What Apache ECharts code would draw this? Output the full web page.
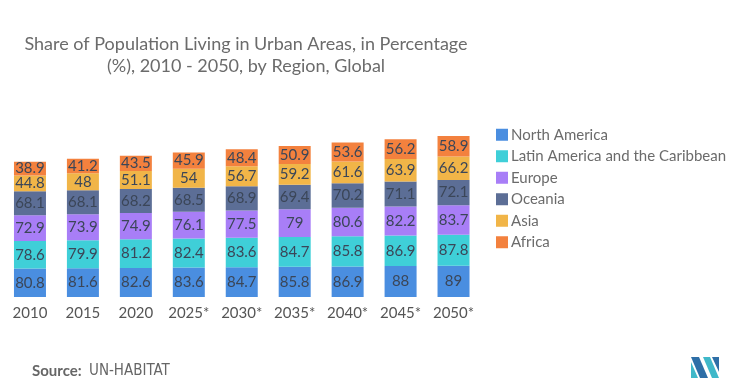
<!DOCTYPE html>
<html><head><meta charset="utf-8">
<script src="https://cdn.jsdelivr.net/npm/echarts@6/dist/echarts.min.js"></script>
<style>html,body{margin:0;padding:0;background:#fff}#c{width:738px;height:390px}</style>
</head><body><div id="c"></div>
<script>
const categories = ['2010','2015','2020','2025*','2030*','2035*','2040*','2045*','2050*'];
const northAmerica = [80.8,81.6,82.6,83.6,84.7,85.8,86.9,88,89];
const latinAmerica = [78.6,79.9,81.2,82.4,83.6,84.7,85.8,86.9,87.8];
const europe = [72.9,73.9,74.9,76.1,77.5,79,80.6,82.2,83.7];
const oceania = [68.1,68.1,68.2,68.5,68.9,69.4,70.2,71.1,72.1];
const asia = [44.8,48,51.1,54,56.7,59.2,61.6,63.9,66.2];
const africa = [38.9,41.2,43.5,45.9,48.4,50.9,53.6,56.2,58.9];
const seriesNames = ['North America','Latin America and the Caribbean','Europe','Oceania','Asia','Africa'];
const seriesData = [northAmerica, latinAmerica, europe, oceania, asia, africa];
const colors = ['#4a8ee0','#3fcfd8','#a87ef7','#5c6e96','#f1b548','#f3813e'];
const FONT = 'Lato';

const chart = echarts.init(document.getElementById('c'));
chart.setOption({
  animation: false,
  color: colors,
  textStyle: {fontFamily: FONT},
  title: {
    text: 'Share of Population Living in Urban Areas, in Percentage\n(%), 2010 - 2050, by Region, Global',
    left: 241, top: 28, textAlign: 'center',
    textStyle: {fontSize: 18, fontWeight: 'normal', color: '#6b6b6b', lineHeight: 22, fontFamily: FONT}
  },
  legend: {
    orient: 'vertical', left: 496, top: 126,
    itemWidth: 12, itemHeight: 12, itemGap: 4, padding: 0,
    icon: 'rect',
    textStyle: {fontSize: 15, color: '#6b6b6b', fontFamily: FONT, lineHeight: 17.5, padding: [0, 0, 0, -2]},
    data: seriesNames
  },
  grid: {left: 3.5, right: 258, top: 121, bottom: 93},
  xAxis: {
    type: 'category', data: categories,
    axisLine: {show: false}, axisTick: {show: false},
    axisLabel: {interval: 0, fontSize: 15, color: '#555', margin: 9, fontFamily: FONT}
  },
  yAxis: {type: 'value', min: 0, max: 500, show: false, splitLine: {show: false}},
  series: seriesNames.map((n, i) => ({
    name: n, type: 'bar', stack: 'total', barWidth: 32,
    data: seriesData[i],
    itemStyle: {color: colors[i]},
    label: {show: true, position: 'inside', fontSize: 15, color: '#3b4658', fontFamily: FONT}
  })),
  graphic: [
    {type: 'text', left: 32, top: 364, style: {text: 'Source:', fontSize: 15, fontWeight: 'bold', fill: '#666', fontFamily: FONT}},
    {type: 'text', left: 89, top: 364, style: {text: 'UN-HABITAT', fontSize: 15, fill: '#666', fontFamily: 'Liberation Sans Narrow, DejaVu Sans Condensed, sans-serif'}},
    {type: 'polygon', shape: {points: [[691,357],[699,357],[708,378],[700,378]]}, style: {fill: '#2e6fa7'}},
    {type: 'polygon', shape: {points: [[691,362],[698,378],[691,378]]}, style: {fill: '#3fb8c9'}},
    {type: 'polygon', shape: {points: [[703,357],[710,357],[719,378],[712,378]]}, style: {fill: '#3fb8c9'}},
    {type: 'polygon', shape: {points: [[712,357],[719,357],[719,372]]}, style: {fill: '#2e6fa7'}}
  ]
});
</script></body></html>
